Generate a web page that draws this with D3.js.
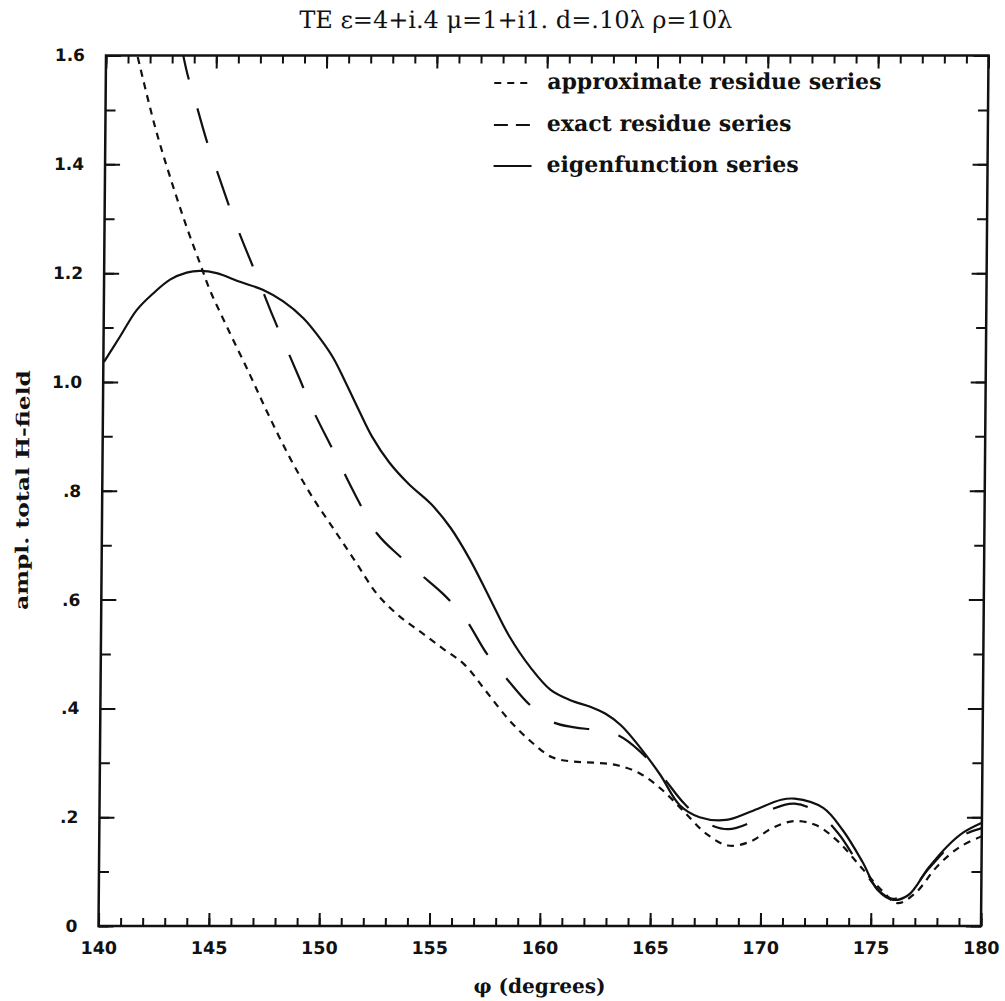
<!DOCTYPE html>
<html><head><meta charset="utf-8">
<script src="https://cdn.jsdelivr.net/npm/d3@7"></script>
<style>body{margin:0;background:#fff}</style>
</head><body><svg id="c" width="1005" height="1001"></svg>
<script>
// ---- data (phi in degrees, amplitude) ----
const phiApprox = [141.3,142.25,142.95,143.72,144.34,144.8,145.58,146.65,147.5,148.5,149.5,150.5,151.5,152.5,153.5,154.5,155.5,156.5,157.5,158.5,159.5,160.5,161.5,162.5,163.5,164.5,165.5,166.5,167.5,168.5,169.5,170.5,171.5,172.5,173.5,174.5,175.5,176.2,177,178,179,180];
const ampApprox = [1.62,1.469,1.377,1.285,1.218,1.169,1.102,1.013,0.94,0.86,0.79,0.73,0.67,0.61,0.57,0.54,0.51,0.48,0.43,0.38,0.34,0.31,0.302,0.30,0.295,0.28,0.25,0.21,0.17,0.148,0.155,0.18,0.193,0.185,0.155,0.11,0.065,0.042,0.06,0.11,0.145,0.165];
const phiExact = [143.4,143.69,144.16,144.63,145.17,145.76,146.33,146.99,147.61,148.26,148.92,149.5,150.5,151.5,152.5,153.5,154.5,155.5,156.5,157.5,158.5,159.5,160.5,161.5,162.5,163.5,164.5,165.5,166.5,167.5,168.5,169.5,170.5,171.5,172.5,173.5,174.5,175.5,176,176.8,177.6,178.5,179.2,180];
const ampExact = [1.62,1.567,1.503,1.439,1.377,1.31,1.252,1.188,1.126,1.065,1.004,0.95,0.87,0.79,0.72,0.68,0.645,0.61,0.565,0.50,0.45,0.405,0.375,0.365,0.36,0.35,0.32,0.275,0.225,0.19,0.178,0.19,0.215,0.225,0.21,0.17,0.11,0.06,0.05,0.065,0.105,0.145,0.168,0.18];
const phiEigen = [140.03,140.74,141.49,142.24,142.99,143.74,144.35,145.1,146.16,147.22,148.13,149.05,149.81,150.42,151.0,151.6,152.2,153.0,153.9,154.9,155.8,156.7,157.6,158.5,159.5,160.4,161.3,162.2,162.9,163.6,164.5,165.4,166.3,167.2,168.4,169.5,170.9,171.5,172.8,173.7,174.6,175.3,176.0,176.7,177.6,178.5,179.2,180];
const ampEigen = [1.037,1.083,1.132,1.163,1.188,1.201,1.204,1.2,1.184,1.169,1.148,1.117,1.08,1.044,0.998,0.948,0.9,0.852,0.812,0.776,0.732,0.673,0.603,0.533,0.474,0.434,0.415,0.403,0.39,0.369,0.327,0.278,0.222,0.2,0.195,0.21,0.232,0.234,0.217,0.176,0.118,0.066,0.048,0.057,0.107,0.149,0.173,0.19];
const xMajor = [140,145,150,155,160,165,170,175,180];
const xMinor = d3.range(140,181,1);
const yMajor = [0,0.2,0.4,0.6,0.8,1.0,1.2,1.4,1.6];
const yMajorLabels = ["0",".2",".4",".6",".8","1.0","1.2","1.4","1.6"];
const yMinor = d3.range(0,1.61,0.1).map(v=>+v.toFixed(2));
const legendLabels = ["approximate residue series","exact residue series","eigenfunction series"];
const titleText = "TE \u03b5=4+i.4 \u03bc=1+i1. d=.10\u03bb \u03c1=10\u03bb";

const L=98.5,R=981,T=55.5,B=926;
const x = d3.scaleLinear().domain([140,180]).range([L,R]);
const y = d3.scaleLinear().domain([0,1.6]).range([B,T]);
const svg = d3.select("#c");
const k = Math.atan(-7.5/870)*180/Math.PI;
const g = svg.append("g").attr("transform",`translate(0,${B}) skewX(${k}) translate(0,${-B})`);

const ink="#111";
const tickFont="DejaVu Sans, sans-serif";
g.append("defs").append("clipPath").attr("id","clip").append("rect")
  .attr("x",L).attr("y",T).attr("width",R-L).attr("height",B-T);

function styleAxis(sel){
  sel.select(".domain").remove();
  sel.selectAll(".tick line").attr("stroke",ink).attr("stroke-width",2);
}
// minor ticks
g.append("g").attr("transform",`translate(0,${B})`).call(d3.axisBottom(x).tickValues(xMinor).tickSize(-8).tickFormat("")).call(styleAxis);
g.append("g").attr("transform",`translate(0,${T})`).call(d3.axisTop(x).tickValues(xMinor).tickSize(-8).tickFormat("")).call(styleAxis);
g.append("g").attr("transform",`translate(${L},0)`).call(d3.axisLeft(y).tickValues(yMinor).tickSize(-10).tickFormat("")).call(styleAxis);
g.append("g").attr("transform",`translate(${R},0)`).call(d3.axisRight(y).tickValues(yMinor).tickSize(-10).tickFormat("")).call(styleAxis);
// major ticks
const xb = g.append("g").attr("transform",`translate(0,${B})`).call(d3.axisBottom(x).tickValues(xMajor).tickSize(-13).tickFormat(d3.format("d"))).call(styleAxis);
xb.selectAll("text").attr("font-family",tickFont).attr("font-weight","bold").attr("font-size",17.5).attr("fill",ink).attr("dy","0.71em").attr("y",16);
g.append("g").attr("transform",`translate(0,${T})`).call(d3.axisTop(x).tickValues(xMajor).tickSize(-13).tickFormat("")).call(styleAxis);
const yl = g.append("g").attr("transform",`translate(${L},0)`).call(d3.axisLeft(y).tickValues(yMajor).tickSize(-15).tickFormat((d,i)=>yMajorLabels[i])).call(styleAxis);
yl.selectAll("text").attr("font-family",tickFont).attr("font-weight","bold").attr("font-size",17).attr("fill",ink).attr("x",-21);
g.append("g").attr("transform",`translate(${R},0)`).call(d3.axisRight(y).tickValues(yMajor).tickSize(-15).tickFormat("")).call(styleAxis);

// frame
g.append("rect").attr("x",L).attr("y",T).attr("width",R-L).attr("height",B-T)
  .attr("fill","none").attr("stroke",ink).attr("stroke-width",2.5);

// curves
const line = d3.line().x(d=>x(d[0])).y(d=>y(d[1])).curve(d3.curveCatmullRom.alpha(0.5));
const series = [
  {phi:phiApprox, amp:ampApprox, dash:"7,6"},
  {phi:phiExact, amp:ampExact, dash:"36,30"},
  {phi:phiEigen, amp:ampEigen, dash:null}
];
const cg = g.append("g").attr("clip-path","url(#clip)");
series.forEach(s=>{
  cg.append("path").datum(d3.zip(s.phi,s.amp)).attr("d",line)
    .attr("fill","none").attr("stroke",ink).attr("stroke-width",2.2)
    .attr("stroke-dasharray",s.dash);
});

// legend
const legY=[89,131,172];
const legDash=["7,6","14,8",null];
legendLabels.forEach((t,i)=>{
  g.append("line").attr("x1",487).attr("x2",525).attr("y1",legY[i]-6).attr("y2",legY[i]-6)
    .attr("stroke",ink).attr("stroke-width",2.2).attr("stroke-dasharray",legDash[i]);
  g.append("text").attr("x",540).attr("y",legY[i]).text(t)
    .attr("font-family","DejaVu Serif, serif").attr("font-weight","bold").attr("font-size",22).attr("fill",ink);
});

// title & labels
g.append("text").attr("x",508).attr("y",28).attr("text-anchor","middle").text(titleText)
  .attr("font-family","DejaVu Serif, serif").attr("font-size",24).attr("fill",ink);
g.append("text").attr("transform",`translate(25,490) rotate(-90)`).attr("text-anchor","middle")
  .text("ampl. total H-field").attr("font-family","DejaVu Serif, serif").attr("font-weight","bold").attr("font-size",18)
  .attr("textLength",240).attr("lengthAdjust","spacingAndGlyphs").attr("fill",ink);
g.append("text").attr("x",540).attr("y",993).attr("text-anchor","middle")
  .text("\u03c6 (degrees)").attr("font-family","DejaVu Serif, serif").attr("font-weight","bold").attr("font-size",20).attr("fill",ink);
</script></body></html>
